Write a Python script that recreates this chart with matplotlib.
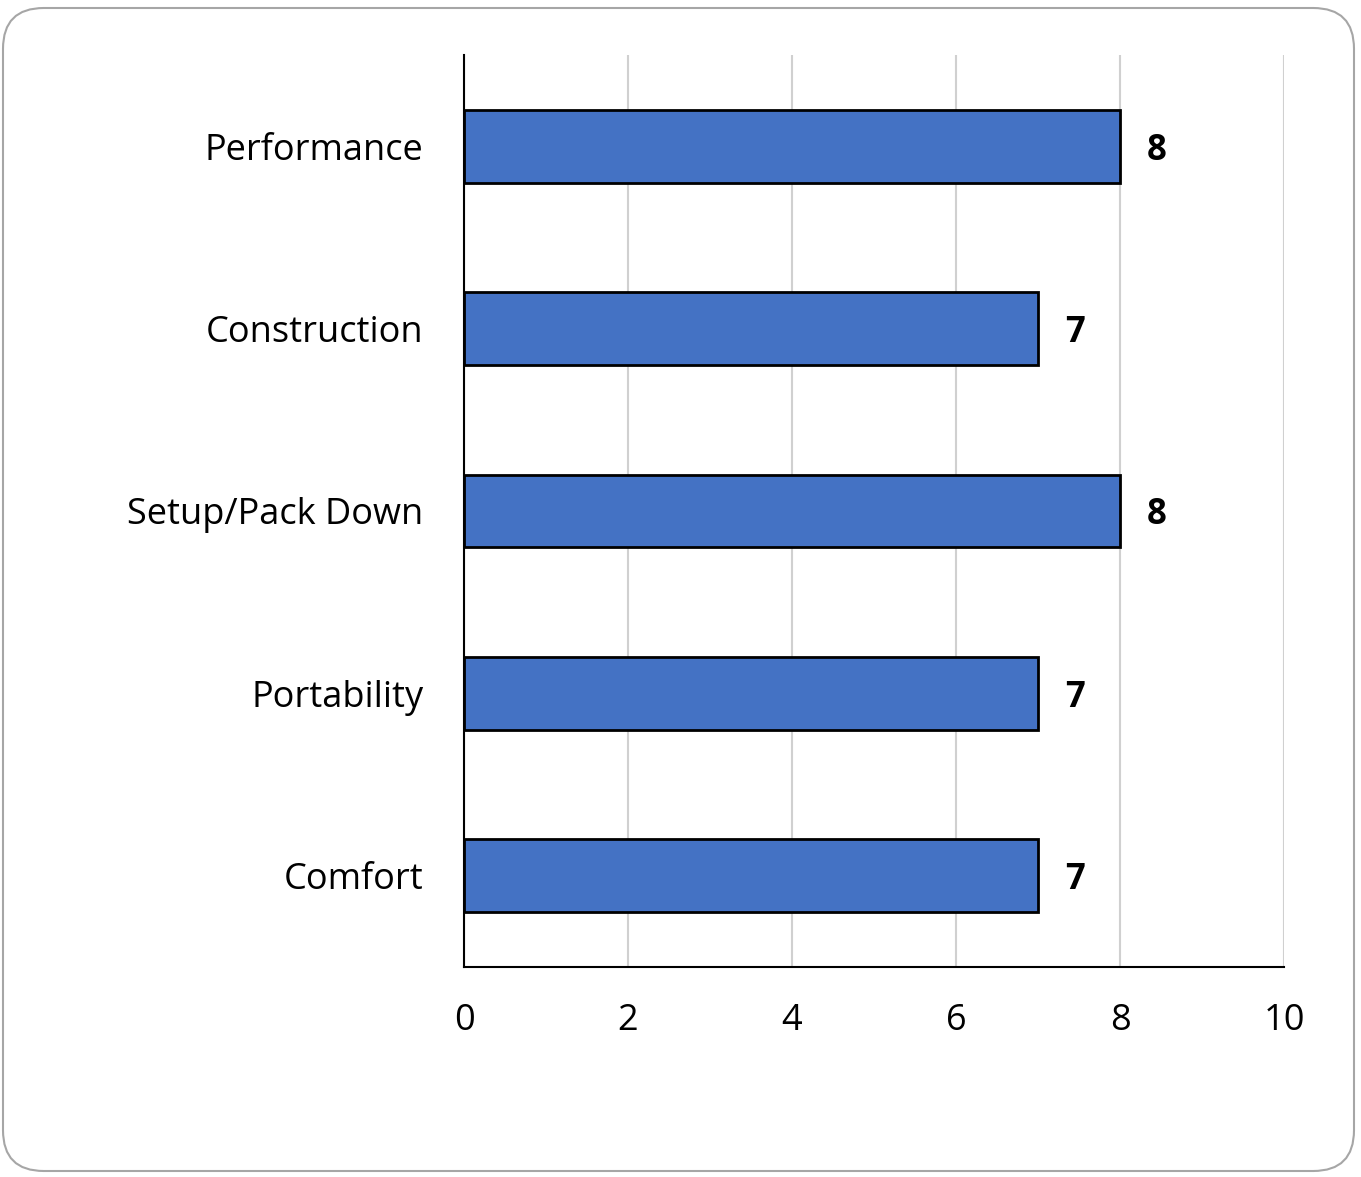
import matplotlib.pyplot as plt
from matplotlib.patches import FancyBboxPatch

# chart data
categories = ['Performance', 'Construction', 'Setup/Pack Down', 'Portability', 'Comfort']
scores = [8, 7, 8, 7, 7]
x_ticks = [0, 2, 4, 6, 8, 10]

plt.rcParams['font.family'] = ['Open Sans', 'DejaVu Sans']

W, H = 1361, 1177
fig = plt.figure(figsize=(W / 100, H / 100), dpi=100)

# rounded outer frame
frame = FancyBboxPatch((3 / W, 6 / H), 1351 / W, 1163 / H,
                       boxstyle='round,pad=0,rounding_size=0.03',
                       transform=fig.transFigure, facecolor='none',
                       edgecolor='#a6a6a6', linewidth=1.5,
                       mutation_aspect=W / H, zorder=5)
fig.patches.append(frame)

ax = fig.add_axes([464 / W, 1 - 967 / H, 820 / W, 912 / H])
ax.set_facecolor('none')

y = list(range(len(categories)))
ax.barh(y, scores, height=0.4, color='#4472C4', edgecolor='black',
        linewidth=2, zorder=3)

for yi, v in zip(y, scores):
    ax.text(v + 0.45, yi, str(v), va='center_baseline', ha='center',
            fontsize=25, fontweight='bold', zorder=4)

ax.set_xlim(0, 10)
ax.set_ylim(len(categories) - 0.5, -0.5)
ax.set_xticks(x_ticks)
ax.set_yticks(y)
ax.set_yticklabels(categories)
ax.tick_params(axis='both', length=0, labelsize=26)
ax.tick_params(axis='y', pad=29)
ax.tick_params(axis='x', pad=26)

ax.xaxis.grid(True, color='#d0d0d0', linewidth=1.5, zorder=0)
ax.set_axisbelow(True)
for s in ['top', 'right']:
    ax.spines[s].set_visible(False)
ax.spines['left'].set_linewidth(1.5)
ax.spines['bottom'].set_linewidth(1.5)

fig.savefig('out.png', dpi=100)
